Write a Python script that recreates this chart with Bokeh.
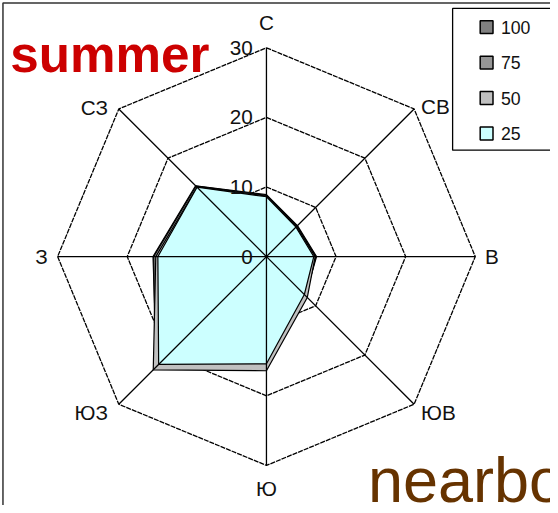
import math
from bokeh.plotting import figure
from bokeh.core.properties import value
from bokeh.embed import file_html
from bokeh.resources import INLINE

# ---------------- data ----------------
directions = ["С", "СВ", "В", "ЮВ", "Ю", "ЮЗ", "З", "СЗ"]
angles_deg = [90, 45, 0, -45, -90, -135, 180, 135]
ring_levels = [10, 20, 30]
tick_labels = ["0", "10", "20", "30"]
tick_values = [0, 10, 20, 30]

series_names = ["100", "75", "50", "25"]
s100 = [8.9, 6.3, 7.2, 7.9, 15.6, 22.3, 16.3, 14.4]
s75 = [8.8, 6.2, 7.1, 8.0, 15.9, 22.6, 16.2, 14.3]
s50 = [8.7, 6.1, 7.0, 8.3, 16.4, 23.0, 15.9, 14.1]
s25 = [8.6, 6.0, 6.8, 7.7, 15.4, 21.9, 15.6, 14.1]
series_values = [s100, s75, s50, s25]
series_colors = ["#808080", "#969696", "#C0C0C0", "#CCFFFF"]

# ---------------- geometry ----------------
W, H = 550, 505
S = 0.985                   # overall scale so the whole chart fits the window
CX, CY = 270 * S, 260 * S   # centre in canvas pixels
PPU = 212 / 30.0 * S        # pixels per unit
x0 = -CX / PPU
x1 = (W - CX) / PPU
y1 = CY / PPU
y0 = -(H - CY) / PPU


def X(px):
    return x0 + px * S / PPU


def Y(py):
    return y1 - py * S / PPU


def fs(px):
    return "%.1fpx" % (px * S)


def pol(r, a):
    t = math.radians(a)
    return r * math.cos(t), r * math.sin(t)


p = figure(width=W, height=H, x_range=(x0, x1), y_range=(y0, y1),
           output_backend="svg", toolbar_location=None, min_border=0,
           background_fill_color="white", border_fill_color="white")
p.axis.visible = False
p.grid.visible = False
p.outline_line_color = None

# outer chart frame (left/top edges visible)
p.quad(left=[X(2.5)], right=[X(600)], top=[Y(2.5)], bottom=[Y(600)],
       fill_color=None, line_color="#333333", line_width=1.5)

# rings (under the series)
for lv in ring_levels:
    pts = [pol(lv, a) for a in angles_deg]
    xs = [q[0] for q in pts] + [pts[0][0]]
    ys = [q[1] for q in pts] + [pts[0][1]]
    p.line(xs, ys, line_color="black", line_width=1.3, line_dash="5 1")

# series polygons
for vals, col in zip(series_values, series_colors):
    pts = [pol(v, a) for v, a in zip(vals, angles_deg)]
    p.patch([q[0] for q in pts], [q[1] for q in pts], fill_color=col,
            line_color="black", line_width=1.2)

# spokes (on top)
for a in angles_deg:
    ex, ey = pol(ring_levels[-1], a)
    p.line([0, ex], [0, ey], line_color="black", line_width=1.3)

FONT = value("Liberation Sans")

# category labels
offs = {
    "С": (0, -14, "center", "bottom"),
    "СВ": (7, -2, "left", "middle"),
    "В": (10, 0, "left", "middle"),
    "ЮВ": (7, 8, "left", "middle"),
    "Ю": (0, 12, "center", "top"),
    "ЮЗ": (-11, 8, "right", "middle"),
    "З": (-10, 0, "right", "middle"),
    "СЗ": (-11, -1, "right", "middle"),
}
for name, a in zip(directions, angles_deg):
    ex, ey = pol(ring_levels[-1], a)
    dx, dy, al, bl = offs[name]
    p.text(x=[ex], y=[ey], text=[name], x_offset=dx * S, y_offset=dy * S,
           text_align=al, text_baseline=bl, text_font=FONT,
           text_font_size=fs(21), text_color="#111111")

# radial tick labels
p.text(x=[0] * len(tick_values), y=tick_values, text=tick_labels, x_offset=-14 * S,
       text_align="right", text_baseline="middle", text_font=FONT,
       text_font_size=fs(21), text_color="#111111")

# legend (manual, like the original boxed legend)
p.quad(left=[X(459)], right=[X(600)], top=[Y(8)], bottom=[Y(152)],
       fill_color="white", line_color="black", line_width=1.3)
row_y = [27, 63, 99, 135]
for name, col, ry in zip(series_names, series_colors, row_y):
    p.quad(left=[X(487)], right=[X(500)], top=[Y(ry - 6.5)], bottom=[Y(ry + 6.5)],
           fill_color=col, line_color="black", line_width=1.5)
    p.text(x=[X(508)], y=[Y(ry)], text=[name], text_align="left",
           text_baseline="middle", text_font=FONT, text_font_size=fs(18),
           text_color="#111111")

# titles
p.text(x=[X(10)], y=[Y(55)], text=["summer"], text_align="left",
       text_baseline="alphabetic", text_font=FONT, text_font_size=fs(52),
       text_font_style="bold", text_color="#CC0000")
p.text(x=[X(373)], y=[Y(487)], text=["nearbo"], text_align="left",
       text_baseline="alphabetic", text_font=FONT, text_font_size=fs(64),
       text_color="#663300")

open("out.html", "w").write(file_html(p, INLINE))
